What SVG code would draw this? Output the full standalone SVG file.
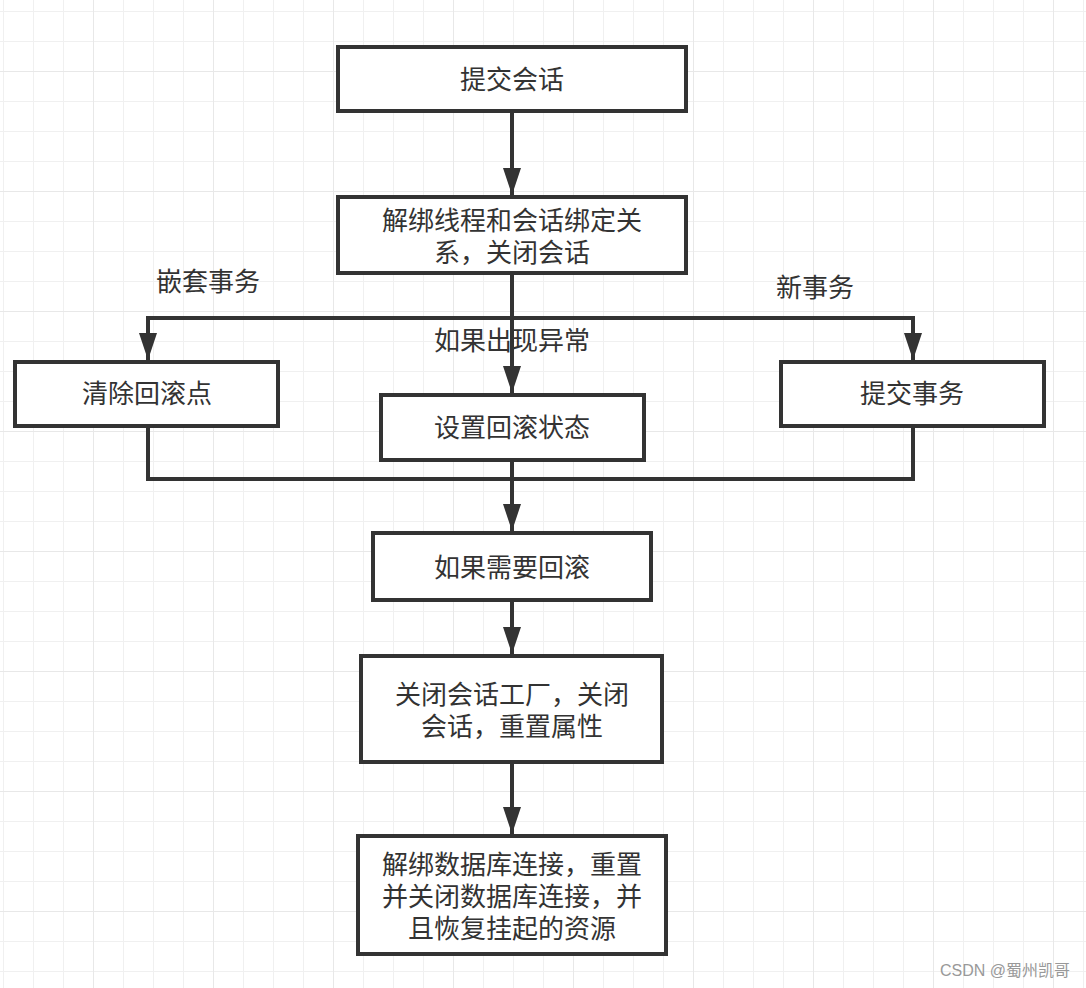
<svg xmlns="http://www.w3.org/2000/svg" width="1086" height="988" viewBox="0 0 1086 988">
<defs>
<pattern id="gminor" x="3" y="11" width="30" height="30" patternUnits="userSpaceOnUse">
<path d="M0 0V30M0 0H30" stroke="#f0f0f0" stroke-width="2" fill="none"/>
</pattern>
<pattern id="gmajor" x="93" y="71" width="120" height="120" patternUnits="userSpaceOnUse">
<path d="M0 0V120M0 0H120" stroke="#e8e8e8" stroke-width="2" fill="none"/>
</pattern>
<marker id="arr" viewBox="0 0 27 18" refX="27" refY="9" markerWidth="27" markerHeight="18" markerUnits="userSpaceOnUse" orient="auto">
<path d="M0 0L27 9L0 18Z" fill="#333"/>
</marker>
</defs>
<style>
.box{fill:#fff;stroke:#333;stroke-width:4}
.t{font-family:"Liberation Sans","Noto Sans CJK SC",sans-serif;font-size:26px;fill:#333;text-anchor:middle}
.ln{fill:none;stroke:#333;stroke-width:4}
</style>
<rect width="1086" height="988" fill="#fff"/>
<rect width="1086" height="988" fill="url(#gminor)"/>
<rect width="1086" height="988" fill="url(#gmajor)"/>

<g id="connectors">
<path class="ln" d="M512 111V195" marker-end="url(#arr)"/>
<path class="ln" d="M512 273V393" marker-end="url(#arr)"/>
<path class="ln" d="M148 318H913"/>
<path class="ln" d="M148 316V360" marker-end="url(#arr)"/>
<path class="ln" d="M913 316V360" marker-end="url(#arr)"/>
<path class="ln" d="M148 426V479H913V426"/>
<path class="ln" d="M512 460V531" marker-end="url(#arr)"/>
<path class="ln" d="M512 600V654" marker-end="url(#arr)"/>
<path class="ln" d="M512 762V834" marker-end="url(#arr)"/>
</g>

<g id="labels">
<text class="t" x="208" y="291">嵌套事务</text>
<text class="t" x="815" y="297">新事务</text>
<text class="t" x="512" y="350">如果出现异常</text>
</g>

<g id="n1"><rect class="box" x="338" y="47" width="348" height="64"/><text class="t" x="512" y="89">提交会话</text></g>
<g id="n2"><rect class="box" x="338" y="197" width="348" height="76"/><text class="t" x="512" y="230">解绑线程和会话绑定关</text><text class="t" x="512" y="262">系，关闭会话</text></g>
<g id="n3"><rect class="box" x="15" y="362" width="263" height="64"/><text class="t" x="147" y="403">清除回滚点</text></g>
<g id="n4"><rect class="box" x="381" y="395" width="263" height="65"/><text class="t" x="512" y="437">设置回滚状态</text></g>
<g id="n5"><rect class="box" x="781" y="362" width="263" height="64"/><text class="t" x="912" y="403">提交事务</text></g>
<g id="n6"><rect class="box" x="373" y="533" width="278" height="67"/><text class="t" x="512" y="577">如果需要回滚</text></g>
<g id="n7"><rect class="box" x="361" y="656" width="301" height="106"/><text class="t" x="512" y="704">关闭会话工厂，关闭</text><text class="t" x="512" y="736">会话，重置属性</text></g>
<g id="n8"><rect class="box" x="358" y="836" width="308" height="118"/><text class="t" x="512" y="874">解绑数据库连接，重置</text><text class="t" x="512" y="906">并关闭数据库连接，并</text><text class="t" x="512" y="938">且恢复挂起的资源</text></g>

<text x="1070" y="976" font-family="'Liberation Sans','Noto Sans CJK SC',sans-serif" font-size="16" fill="#999" text-anchor="end">CSDN @蜀州凯哥</text>
</svg>
